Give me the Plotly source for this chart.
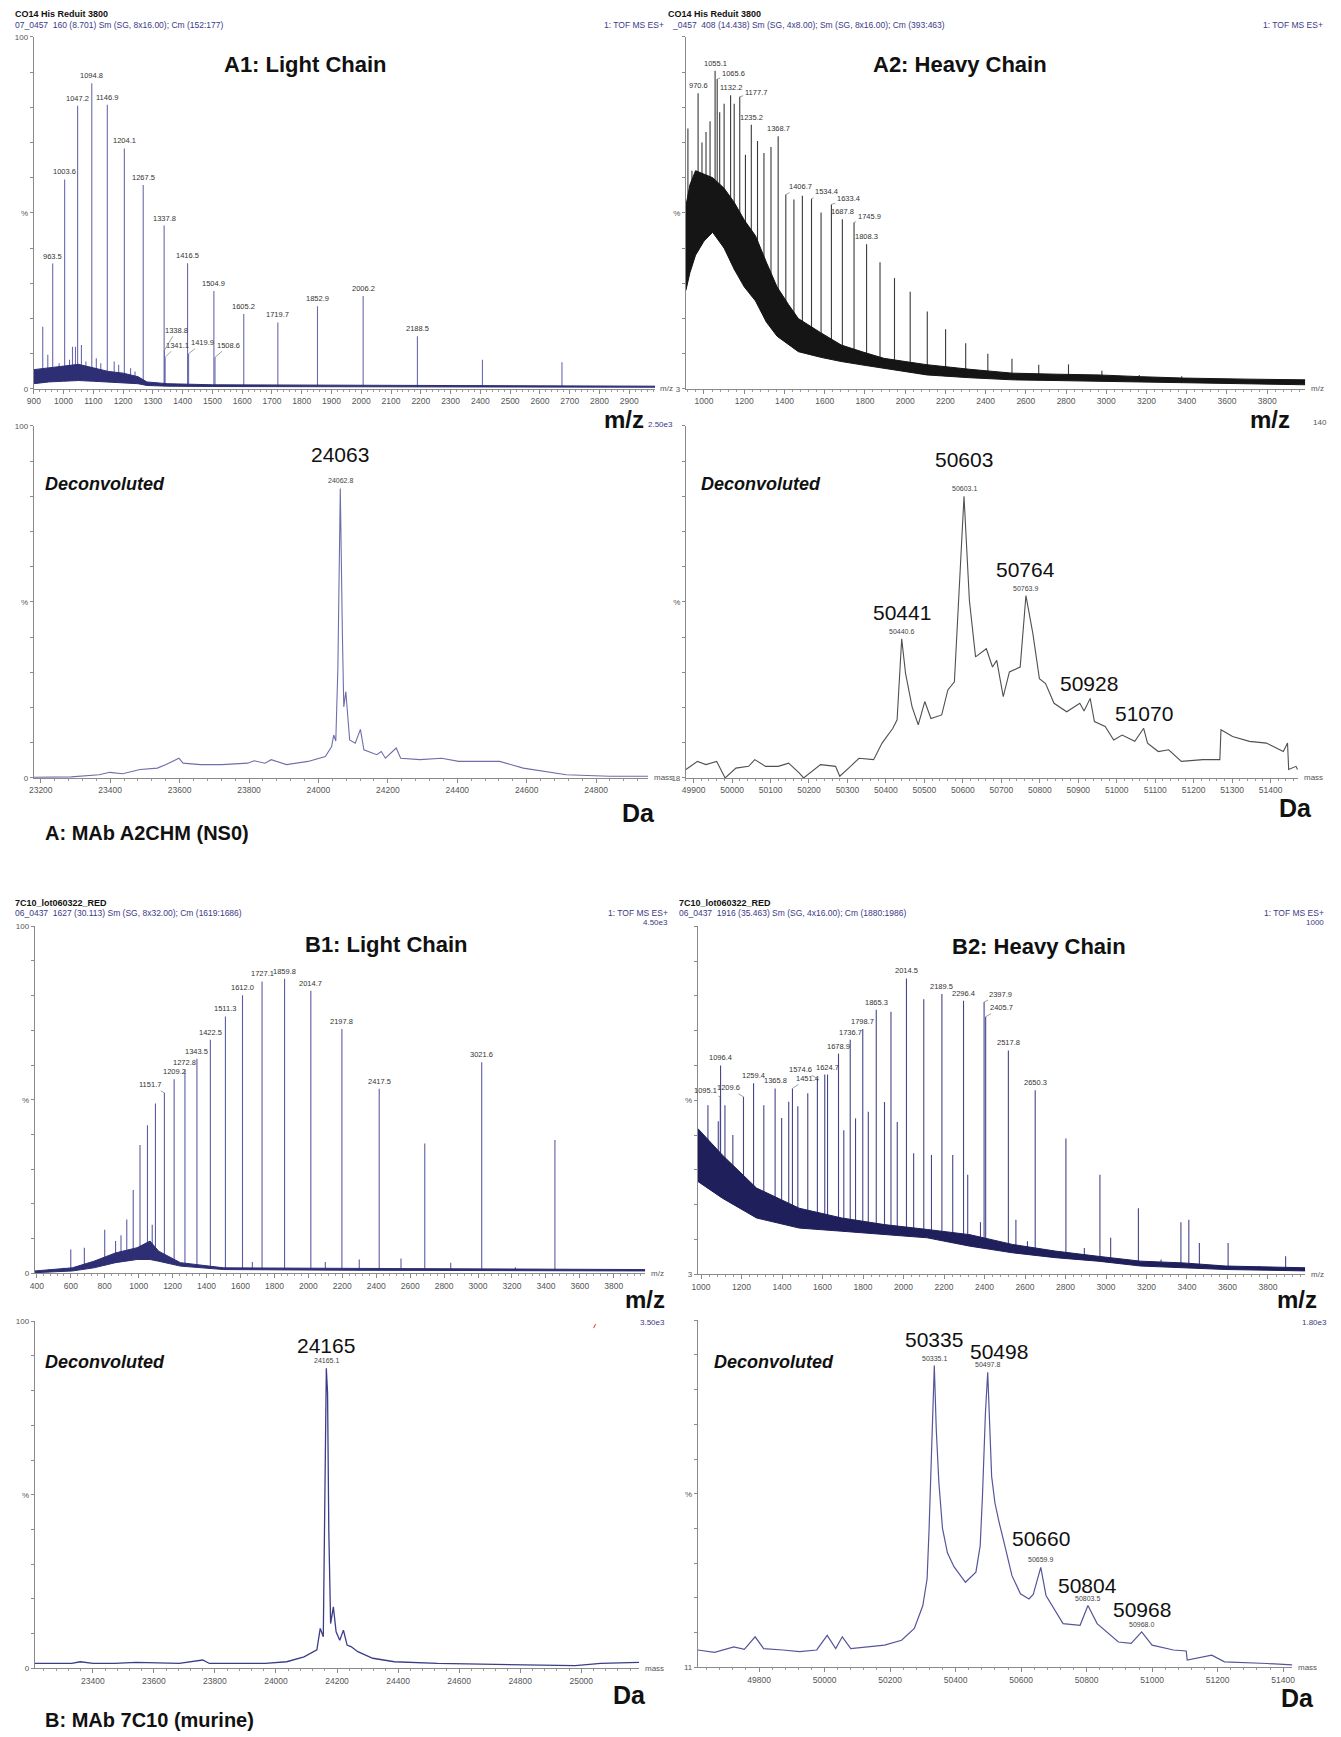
import plotly.graph_objects as go

W, H = 1341, 1737
FONT = "Liberation Sans, Arial, sans-serif"
NAVY = "#3a3a86"

# ---------------- data: A1 light chain m/z spectrum ----------------
A1_MZ = [930, 947, 963.5, 985, 1003.6, 1020, 1030, 1040, 1047.2, 1060, 1075, 1094.8, 1110, 1125,
         1146.9, 1170, 1185, 1204.1, 1225, 1240, 1267.5, 1337.8, 1338.8, 1341.1, 1416.5, 1419.9,
         1504.9, 1508.6, 1605.2, 1719.7, 1852.9, 2006.2, 2188.5, 2407, 2674]
A1_INT = [17.7, 9.7, 35.6, 7.3, 59.5, 8.3, 12, 12, 80.4, 12.5, 7.8, 86.8, 8.7, 7.3,
          80.7, 7.8, 6.9, 68.3, 5.9, 5.0, 57.9, 46.4, 11, 9, 35.7, 10,
          27.8, 9, 21.3, 18.9, 23.5, 26.4, 15.0, 8.3, 7.6]
A1_LABELED = [963.5, 1003.6, 1047.2, 1094.8, 1146.9, 1204.1, 1267.5, 1337.8, 1416.5, 1504.9,
              1605.2, 1719.7, 1852.9, 2006.2, 2188.5]
A1_MINOR = [1338.8, 1341.1, 1419.9, 1508.6]
A1_NOISE_MZ = [900, 950, 1000, 1050, 1100, 1150, 1200, 1250, 1280, 1350, 1500, 2000, 2500, 2987]
A1_NOISE_LO = [1.5, 2.0, 2.2, 2.4, 2.2, 2.0, 1.8, 1.5, 1.0, 0.8, 0.7, 0.6, 0.5, 0.5]
A1_NOISE_HI = [5.5, 6.0, 6.5, 7.0, 6.0, 5.0, 4.5, 3.5, 2.0, 1.5, 1.2, 1.0, 0.9, 0.8]

# ---------------- data: A2 heavy chain m/z spectrum ----------------
A2_MZ = [920, 940, 970.6, 990, 1010, 1030, 1055.1, 1065.6, 1078, 1100, 1132.2, 1150, 1177.7, 1206,
         1235.2, 1266, 1298, 1333, 1368.7, 1406.7, 1447, 1489, 1534.4, 1582, 1633.4, 1687.8,
         1745.9, 1808.3, 1875, 1947, 2025, 2110, 2201, 2301, 2411, 2531, 2664, 2812, 2978,
         3164, 3375, 3616]
A2_INT = [74, 62, 84, 70, 73, 76, 90.4, 88, 78.6, 81, 83.4, 81, 83, 66.5,
          75, 70.4, 67, 68.7, 71.8, 55.2, 53.8, 54.9, 54, 50.1, 52.4, 48.2,
          47.3, 41.1, 36, 31.5, 27.6, 22, 17, 13, 10, 8.6, 6.9, 7, 5.2,
          4, 3.6, 2.8]
A2_LABELED = [970.6, 1055.1, 1065.6, 1132.2, 1177.7, 1235.2, 1368.7, 1406.7, 1534.4, 1633.4,
              1687.8, 1745.9, 1808.3]
A2_NOISE_MZ = [910, 930, 958, 1000, 1043, 1100, 1150, 1200, 1256, 1310, 1363, 1420, 1469, 1580,
               1682, 1790, 1895, 2000, 2108, 2320, 2533, 2750, 2959, 3170, 3385, 3700, 3989]
A2_NOISE_LO = [28, 33, 38, 42, 44.5, 40, 34, 29, 25, 19, 15, 12.5, 10.6, 9, 7.8, 6.8, 5.9, 5,
               4, 3.2, 2.6, 2.4, 2.2, 1.9, 1.7, 1.4, 1.2]
A2_NOISE_HI = [52, 58, 62, 61, 60, 57, 53, 48, 43.5, 36, 29, 24, 20, 16, 12.5, 10.5, 8.7, 7.8,
               6.9, 5.6, 4.5, 4.2, 4, 3.5, 3.1, 2.8, 2.6]

# ---------------- data: A1 deconvoluted ----------------
A1D_MASS = [23180, 23288, 23368, 23399, 23436, 23486, 23536, 23561, 23598, 23610, 23660, 23722,
            23796, 23815, 23846, 23864, 23908, 23970, 24020, 24038, 24044, 24050, 24056, 24063,
            24069, 24073, 24079, 24084, 24090, 24106, 24121, 24131, 24168, 24181, 24193, 24224,
            24237, 24293, 24355, 24404, 24466, 24522, 24590, 24652, 24714, 24838, 24950]
A1D_INT = [0.2, 0.3, 0.9, 1.6, 1.2, 2.4, 2.8, 3.8, 5.6, 4.2, 3.8, 3.8,
           4.2, 4.9, 4.2, 5.2, 3.8, 4.7, 6.1, 8.9, 12.2, 10.5, 31, 82.2,
           41, 20.2, 24.5, 18, 10.8, 9.9, 13.8, 8, 6.6, 7.5, 5.6, 8.5,
           5.6, 5.2, 5.6, 4.7, 4.7, 4.7, 2.8, 1.9, 0.9, 0.5, 0.5]

# ---------------- data: A2 deconvoluted ----------------
A2D_MASS = [49880, 49910, 49932, 49960, 49982, 50010, 50043, 50059, 50087, 50120, 50147, 50175,
            50186, 50230, 50269, 50280, 50308, 50330, 50368, 50390, 50418, 50429, 50441, 50451,
            50468, 50484, 50501, 50517, 50545, 50561, 50578, 50603, 50617, 50633, 50661, 50677,
            50688, 50705, 50721, 50749, 50764, 50782, 50799, 50815, 50837, 50870, 50904, 50915,
            50931, 50942, 50970, 50992, 51014, 51047, 51070, 51080, 51108, 51135, 51168, 51224,
            51268, 51271, 51301, 51345, 51389, 51433, 51444, 51447, 51466, 51470]
A2D_INT = [2.4, 4.7, 3.8, 4.7, 0, 2.8, 3.3, 5.2, 3.3, 3.3, 4.2, 1.4,
           0, 3.8, 3.3, 0.5, 3.3, 5.6, 5.2, 9.9, 14.1, 16.5, 39.5, 29.7,
           20.2, 15.1, 21.7, 16.9, 17.9, 25, 27.3, 80, 50.4, 34.4, 36.7, 31.5,
           33.4, 23.1, 30.1, 31.5, 51.8, 41, 28.2, 26.8, 21.2, 18.8, 21.2, 19,
           22.6, 16, 14.6, 10.8, 12.2, 10.4, 14.1, 9.9, 7.5, 8, 4.7, 5.2,
           5.2, 13.7, 11.8, 10.4, 9.9, 7.5, 9.9, 2.4, 3.3, 2.4]

# ---------------- data: B1 light chain m/z spectrum ----------------
B1_MZ = [470, 560, 600, 680, 800, 864, 896, 930, 968, 1008, 1052, 1080, 1099, 1151.7, 1209.2,
         1272.8, 1343.5, 1422.5, 1511.3, 1612.0, 1670, 1727.1, 1859.8, 2014.7, 2100, 2197.8,
         2300, 2417.5, 2546, 2686, 2839, 3021.6, 3220, 3453, 3700]
B1_INT = [1.1, 1.6, 6.9, 7.4, 12.6, 9.3, 11, 15.5, 24, 37, 42.7, 14, 48.9, 52, 55.9,
          58.5, 61.8, 67.3, 74, 80.1, 3.3, 84.1, 84.9, 81.4, 3.3, 70.4,
          4, 53.2, 4.3, 37.4, 3.1, 60.8, 1.8, 38.4, 1]
B1_LABELED = [1151.7, 1209.2, 1272.8, 1343.5, 1422.5, 1511.3, 1612.0, 1727.1, 1859.8, 2014.7,
              2197.8, 2417.5, 3021.6]
B1_NOISE_MZ = [388, 609, 736, 864, 991, 1067, 1118, 1246, 1501, 2265, 3985]
B1_NOISE_LO = [0.2, 0.7, 1.6, 3.1, 4.0, 4.0, 3.5, 2.1, 1.1, 0.9, 0.7]
B1_NOISE_HI = [0.7, 1.6, 3.5, 5.9, 7.4, 9.3, 6.4, 3.1, 1.6, 1.4, 1.1]

# ---------------- data: B2 heavy chain m/z spectrum ----------------
B2_MZ = [1034, 1085, 1095.1, 1096.4, 1118, 1157, 1209.6, 1259.4, 1310, 1365.8, 1398, 1433, 1451.4,
         1478, 1527, 1574.6, 1611, 1624.7, 1678.9, 1705, 1736.7, 1763, 1798.7, 1826, 1865.3,
         1906, 1938, 1969, 2014.5, 2050, 2100, 2138, 2189.5, 2243, 2296.4, 2317, 2380, 2397.9,
         2405.7, 2517.8, 2555, 2612, 2650.3, 2802, 2893, 2970, 3023, 3160, 3272, 3370, 3409,
         3461, 3603, 3757, 3887]
B2_INT = [48.6, 44, 51, 60, 48.6, 40, 51, 54.9, 48.6, 53.4, 44.9, 49.6, 53.4,
          48.3, 52, 56.3, 57.4, 57.4, 63.4, 41.4, 67.4, 44.8, 70.5, 46.7, 76,
          49.5, 75.4, 43.8, 85, 34.8, 79, 34.3, 80.5, 34.3, 78.6, 28.6, 15, 78.2,
          74, 64.3, 15.7, 9.5, 52.9, 39, 7.6, 28.6, 10.5, 19, 4.3, 15, 15.7,
          9, 9, 2.4, 5.2]
B2_LABELED = [1095.1, 1096.4, 1209.6, 1259.4, 1365.8, 1451.4, 1574.6, 1624.7, 1678.9, 1736.7,
              1798.7, 1865.3, 2014.5, 2189.5, 2296.4, 2397.9, 2405.7, 2517.8, 2650.3]
B2_NOISE_MZ = [984, 1105, 1274, 1485, 1695, 1906, 2117, 2328, 2538, 2749, 2960, 3171, 3381, 3592, 3984]
B2_NOISE_LO = [26.7, 21.9, 16.2, 13.3, 12.4, 11.4, 10.5, 8.1, 6.2, 4.8, 3.8, 2.4, 1.9, 1.4, 1.0]
B2_NOISE_HI = [41.9, 34.3, 24.8, 19, 16.2, 14.3, 12.9, 11.4, 8.6, 6.7, 5.2, 3.8, 3.3, 2.4, 1.9]

# ---------------- data: B1 deconvoluted ----------------
B1D_MASS = [23210, 23331, 23359, 23401, 23471, 23542, 23683, 23760, 23782, 23965, 24035, 24092,
            24134, 24145, 24155, 24159, 24165, 24169, 24173, 24179, 24188, 24197, 24209, 24221,
            24233, 24247, 24268, 24317, 24388, 24529, 24811, 24980, 25064, 25190]
B1D_INT = [1.4, 1.4, 1.9, 1.4, 1.4, 1.7, 1.4, 2.4, 1.4, 1.4, 1.9, 3.3,
           5.3, 11.5, 9.1, 40, 86.4, 79.3, 40, 12.9, 17.7, 10.5, 8.1, 11,
           6.7, 6.2, 4.8, 2.9, 1.9, 1.4, 1.0, 0.8, 1.4, 1.7]

# ---------------- data: B2 deconvoluted ----------------
B2D_MASS = [49613, 49664, 49723, 49755, 49788, 49814, 49872, 49924, 49976, 50008, 50034, 50054,
            50080, 50131, 50183, 50235, 50274, 50300, 50313, 50319, 50326, 50335, 50341, 50349,
            50360, 50375, 50395, 50430, 50462, 50475, 50482, 50491, 50498, 50504, 50510, 50520,
            50533, 50553, 50572, 50598, 50624, 50637, 50660, 50676, 50728, 50780, 50804, 50832,
            50897, 50936, 50968, 51000, 51065, 51104, 51107, 51182, 51221, 51351, 51428]
B2D_INT = [5, 4.3, 5.9, 5.2, 8.8, 5.4, 5, 4.5, 5, 9.2, 5.4, 8.8,
           5.4, 5.9, 6.4, 7.8, 11.2, 17.8, 25.5, 39.8, 63.6, 86.9, 68.4, 53.1,
           40, 33, 29, 24.5, 27.4, 35, 49.3, 73.1, 85, 68.4, 55, 47.4,
           41.7, 34, 26.4, 21.2, 19.7, 21, 28.8, 20.7, 12.6, 12.1, 17.8, 12.6,
           7.3, 6.9, 10.2, 6.4, 5, 4.7, 2.1, 3.5, 1.6, 1.1, 0.7]

# deconvoluted peak annotations
A1D_PEAKS = ["24063"]
A2D_PEAKS = ["50603", "50441", "50764", "50928", "51070"]
B1D_PEAKS = ["24165"]
B2D_PEAKS = ["50335", "50498", "50660", "50804", "50968"]
A1D_SMALL = [24062.8]
A2D_SMALL = [50603.1, 50440.6, 50763.9]
B1D_SMALL = [24165.1]
B2D_SMALL = [50335.1, 50497.8, 50659.9, 50803.5, 50968.0]

# ---------------- layout geometry (pixels) ----------------
PANELS = {
    "A1":  dict(box=(27, 653, 33, 387),     xr=(900, 2987),     dtick=100, tick0=900,   minor=20, ylab=("0", "%", "100")),
    "A2":  dict(box=(684, 1308, 33, 387),   xr=(910, 3989),     dtick=200, tick0=1000,  minor=40, ylab=("3", "%", "")),
    "A1d": dict(box=(27, 646, 424, 778),    xr=(23180, 24950),  dtick=200, tick0=23200, minor=40, ylab=("0", "%", "100")),
    "A2d": dict(box=(684, 1301, 424, 778),  xr=(49880, 51472),  dtick=100, tick0=49900, minor=20, ylab=("18", "%", "")),
    "B1":  dict(box=(28, 643, 927, 1276),   xr=(388, 3985),     dtick=200, tick0=400,   minor=40, ylab=("0", "%", "100")),
    "B2":  dict(box=(696, 1308, 927, 1277), xr=(984, 3984),     dtick=200, tick0=1000,  minor=40, ylab=("3", "%", "")),
    "B1d": dict(box=(28, 637, 1324, 1673),  xr=(23210, 25190),  dtick=200, tick0=23400, minor=40, ylab=("0", "%", "100")),
    "B2d": dict(box=(696, 1295, 1323, 1672), xr=(49613, 51428), dtick=200, tick0=49800, minor=40, ylab=("11", "%", "")),
}
ORDER = list(PANELS.keys())


def px(x):
    return x / W


def py(y):
    return 1 - y / H


fig = go.Figure()
layout = dict(width=W, height=H, margin=dict(l=0, r=0, t=0, b=0),
              paper_bgcolor="white", plot_bgcolor="white", showlegend=False,
              font=dict(family=FONT, color="#222"))

AX = {}
for i, key in enumerate(ORDER, start=1):
    p = PANELS[key]
    l, r, t, b = p["box"]
    xs = "" if i == 1 else str(i)
    AX[key] = ("x" + xs, "y" + xs)
    yvals = list(range(0, 101, 10))
    ytext = [""] * len(yvals)
    ytext[0], ytext[5], ytext[10] = p["ylab"]
    layout["xaxis" + xs] = dict(
        domain=[px(l), px(r)], range=list(p["xr"]), anchor="y" + xs,
        showline=True, linecolor="#8a8a8a", linewidth=1, showgrid=False, zeroline=False,
        ticks="outside", ticklen=4, tickwidth=1, tickcolor="#8a8a8a",
        dtick=p["dtick"], tick0=p["tick0"], tickformat="d",
        tickfont=dict(size=8.5, color="#555", family=FONT),
        minor=dict(ticks="outside", ticklen=2, dtick=p["minor"], tickcolor="#9a9a9a"),
        fixedrange=True)
    layout["yaxis" + xs] = dict(
        domain=[py(b), py(t)], range=[0, 100], anchor="x" + xs,
        showline=True, linecolor="#8a8a8a", linewidth=1, showgrid=False, zeroline=False,
        ticks="outside", ticklen=3, tickcolor="#8a8a8a",
        tickvals=yvals, ticktext=ytext,
        tickfont=dict(size=8, color="#555", family=FONT), fixedrange=True)
fig.update_layout(**layout)


def sticks(mz, inten):
    xs, ys = [], []
    for m, h in zip(mz, inten):
        xs += [m, m, None]
        ys += [0, h, None]
    return xs, ys


def spectrum(key, mz, inten, nmz, nlo, nhi, stick_color, band_color, width=1.1):
    xa, ya = AX[key]
    sx, sy = sticks(mz, inten)
    fig.add_trace(go.Scatter(x=sx, y=sy, mode="lines", xaxis=xa, yaxis=ya,
                             line=dict(color=stick_color, width=width), hoverinfo="skip"))
    fig.add_trace(go.Scatter(x=nmz, y=nlo, mode="lines", xaxis=xa, yaxis=ya, fill="tozeroy",
                             fillcolor="white", line=dict(color=band_color, width=1), hoverinfo="skip"))
    fig.add_trace(go.Scatter(x=nmz, y=nhi, mode="lines", xaxis=xa, yaxis=ya, fill="tonexty",
                             fillcolor=band_color, line=dict(color=band_color, width=1), hoverinfo="skip"))


def deconv(key, mass, inten, color, width=1.1):
    xa, ya = AX[key]
    fig.add_trace(go.Scatter(x=mass, y=inten, mode="lines", xaxis=xa, yaxis=ya,
                             line=dict(color=color, width=width), hoverinfo="skip"))


spectrum("A1", A1_MZ, A1_INT, A1_NOISE_MZ, A1_NOISE_LO, A1_NOISE_HI, "#6a6aae", "#2e2e74")
spectrum("A2", A2_MZ, A2_INT, A2_NOISE_MZ, A2_NOISE_LO, A2_NOISE_HI, "#3a3a3a", "#151515")
spectrum("B1", B1_MZ, B1_INT, B1_NOISE_MZ, B1_NOISE_LO, B1_NOISE_HI, "#5c5ca6", "#2e2e74")
spectrum("B2", B2_MZ, B2_INT, B2_NOISE_MZ, B2_NOISE_LO, B2_NOISE_HI, "#45458a", "#1f1f5c")
deconv("A1d", A1D_MASS, A1D_INT, "#6e6eaa")
deconv("A2d", A2D_MASS, A2D_INT, "#505050")
deconv("B1d", B1D_MASS, B1D_INT, "#3c3c88", 1.3)
deconv("B2d", B2D_MASS, B2D_INT, "#55559a", 1.2)

ann = []

# stick peak labels; leader offsets (pixels) for crowded labels
LEADERS = {
    "A1": {1338.8: (12, -20), 1341.1: (12, -12), 1419.9: (14, -11), 1508.6: (14, -12)},
    "A2": {1065.6: (16, -6), 1177.7: (16, -4), 1406.7: (15, -8), 1534.4: (15, -7),
           1633.4: (17, -6), 1745.9: (15, -6)},
    "B1": {1151.7: (-14, -8)},
    "B2": {1095.1: (-15, -6), 1209.6: (-15, -9), 1451.4: (15, -10), 1574.6: (-17, -9),
           2397.9: (16, -8), 2405.7: (16, -9)},
}


def peak_labels(key, mz, inten, labeled):
    xa, ya = AX[key]
    height = dict(zip(mz, inten))
    for m in labeled:
        h = height[m]
        lead = LEADERS.get(key, {}).get(m)
        base = dict(x=m, y=h, xref=xa, yref=ya, text=f"{m:.1f}",
                    font=dict(size=7.5, color="#333", family=FONT))
        if lead:
            base.update(showarrow=True, arrowhead=0, arrowwidth=0.7, arrowcolor="#777",
                        ax=lead[0], ay=lead[1], standoff=0)
        else:
            base.update(showarrow=False, yanchor="bottom", yshift=1)
        ann.append(base)


peak_labels("A1", A1_MZ, A1_INT, A1_LABELED + A1_MINOR)
peak_labels("A2", A2_MZ, A2_INT, A2_LABELED)
peak_labels("B1", B1_MZ, B1_INT, B1_LABELED)
peak_labels("B2", B2_MZ, B2_INT, B2_LABELED)


def small_deconv_labels(key, mass, inten, values):
    xa, ya = AX[key]
    for v in values:
        h = max(i for m, i in zip(mass, inten) if abs(m - v) <= 6)
        ann.append(dict(x=v, y=h, xref=xa, yref=ya, text=f"{v:.1f}", showarrow=False,
                        yanchor="bottom", yshift=2, font=dict(size=7, color="#444", family=FONT)))


small_deconv_labels("A1d", A1D_MASS, A1D_INT, A1D_SMALL)
small_deconv_labels("A2d", A2D_MASS, A2D_INT, A2D_SMALL)
small_deconv_labels("B1d", B1D_MASS, B1D_INT, B1D_SMALL)
small_deconv_labels("B2d", B2D_MASS, B2D_INT, B2D_SMALL)

# big mass labels (x position, y position in %)
BIG_POS = {
    "A1d": {"24063": (24063, 91.8)},
    "A2d": {"50603": (50603, 90.4), "50441": (50441, 46.9), "50764": (50764, 59.3),
            "50928": (50928, 26.8), "51070": (51070, 18.4)},
    "B1d": {"24165": (24165, 93.1)},
    "B2d": {"50335": (50335, 94.3), "50498": (50532, 91.1), "50660": (50660, 37),
            "50804": (50804, 23.5), "50968": (50968, 16.6)},
}
for key, labels in (("A1d", A1D_PEAKS), ("A2d", A2D_PEAKS), ("B1d", B1D_PEAKS), ("B2d", B2D_PEAKS)):
    xa, ya = AX[key]
    for t in labels:
        x, y = BIG_POS[key][t]
        ann.append(dict(x=x, y=y, xref=xa, yref=ya, text=t, showarrow=False,
                        font=dict(size=21, color="#111", family=FONT)))


def P(text, x, y, size, color="#111", xanchor="left", yanchor="middle"):
    ann.append(dict(x=px(x), y=py(y), xref="paper", yref="paper", text=text, showarrow=False,
                    xanchor=xanchor, yanchor=yanchor, font=dict(size=size, color=color, family=FONT)))


# headers
P("<b>CO14 His Reduit 3800</b>", 6, 10, 9)
P("07_0457  160 (8.701) Sm (SG, 8x16.00); Cm (152:177)", 6, 21, 8.5, NAVY)
P("1: TOF MS ES+", 664, 21, 8.5, NAVY, "right")
P("<b>CO14 His Reduit 3800</b>", 664, 10, 9)
P("_0457  408 (14.438) Sm (SG, 4x8.00); Sm (SG, 8x16.00); Cm (393:463)", 668, 21, 8.5, NAVY)
P("1: TOF MS ES+", 1328, 21, 8.5, NAVY, "right")
P("<b>7C10_lot060322_RED</b>", 6, 904, 9)
P("06_0437  1627 (30.113) Sm (SG, 8x32.00); Cm (1619:1686)", 6, 914, 8.5, NAVY)
P("1: TOF MS ES+", 668, 914, 8.5, NAVY, "right")
P("4.50e3", 668, 923, 8, NAVY, "right")
P("<b>7C10_lot060322_RED</b>", 675, 904, 9)
P("06_0437  1916 (35.463) Sm (SG, 4x16.00); Cm (1880:1986)", 675, 914, 8.5, NAVY)
P("1: TOF MS ES+", 1329, 914, 8.5, NAVY, "right")
P("1000", 1329, 923, 8, NAVY, "right")
P("2.50e3", 673, 423, 8, NAVY, "right")
P("140", 1323, 421, 8, "#555", "center")
P("3.50e3", 665, 1325, 8, NAVY, "right")
P("1.80e3", 1332, 1325, 8, NAVY, "right")

# panel titles
P("<b>A1: Light Chain</b>", 301, 61, 22, "#111", "center")
P("<b>A2: Heavy Chain</b>", 960, 61, 22, "#111", "center")
P("<b>B1: Light Chain</b>", 382, 945, 22, "#111", "center")
P("<b>B2: Heavy Chain</b>", 1040, 947, 22, "#111", "center")

# small axis tags
P("m/z", 656, 387, 8, "#555")
P("m/z", 1312, 387, 8, "#555")
P("m/z", 647, 1276, 8, "#555")
P("m/z", 1312, 1277, 8, "#555")
P("mass", 650, 778, 8, "#555")
P("mass", 1305, 778, 8, "#555")
P("mass", 641, 1673, 8, "#555")
P("mass", 1299, 1672, 8, "#555")

# big axis unit labels
P("<b>m/z</b>", 622, 418, 24, "#111", "center")
P("<b>m/z</b>", 1272, 418, 24, "#111", "center")
P("<b>m/z</b>", 643, 1302, 24, "#111", "center")
P("<b>m/z</b>", 1300, 1302, 24, "#111", "center")
P("<b>Da</b>", 636, 813, 25, "#111", "center")
P("<b>Da</b>", 1298, 808, 25, "#111", "center")
P("<b>Da</b>", 627, 1700, 25, "#111", "center")
P("<b>Da</b>", 1300, 1703, 25, "#111", "center")

# "Deconvoluted" tags
P("<b><i>Deconvoluted</i></b>", 36, 483, 18)
P("<b><i>Deconvoluted</i></b>", 697, 483, 18)
P("<b><i>Deconvoluted</i></b>", 36, 1365, 18)
P("<b><i>Deconvoluted</i></b>", 710, 1365, 18)

# sample labels
P("<b>A: MAb A2CHM (NS0)</b>", 36, 833, 20)
P("<b>B: MAb 7C10 (murine)</b>", 36, 1725, 20)

fig.update_layout(annotations=ann)
fig.add_shape(type="line", xref="paper", yref="paper", x0=px(591), y0=py(1331), x1=px(593), y1=py(1327),
              line=dict(color="#e03030", width=1))

fig.write_html("out.html", config={"displayModeBar": False},
               post_script="document.body.style.margin='0px';document.body.style.overflow='hidden';")
